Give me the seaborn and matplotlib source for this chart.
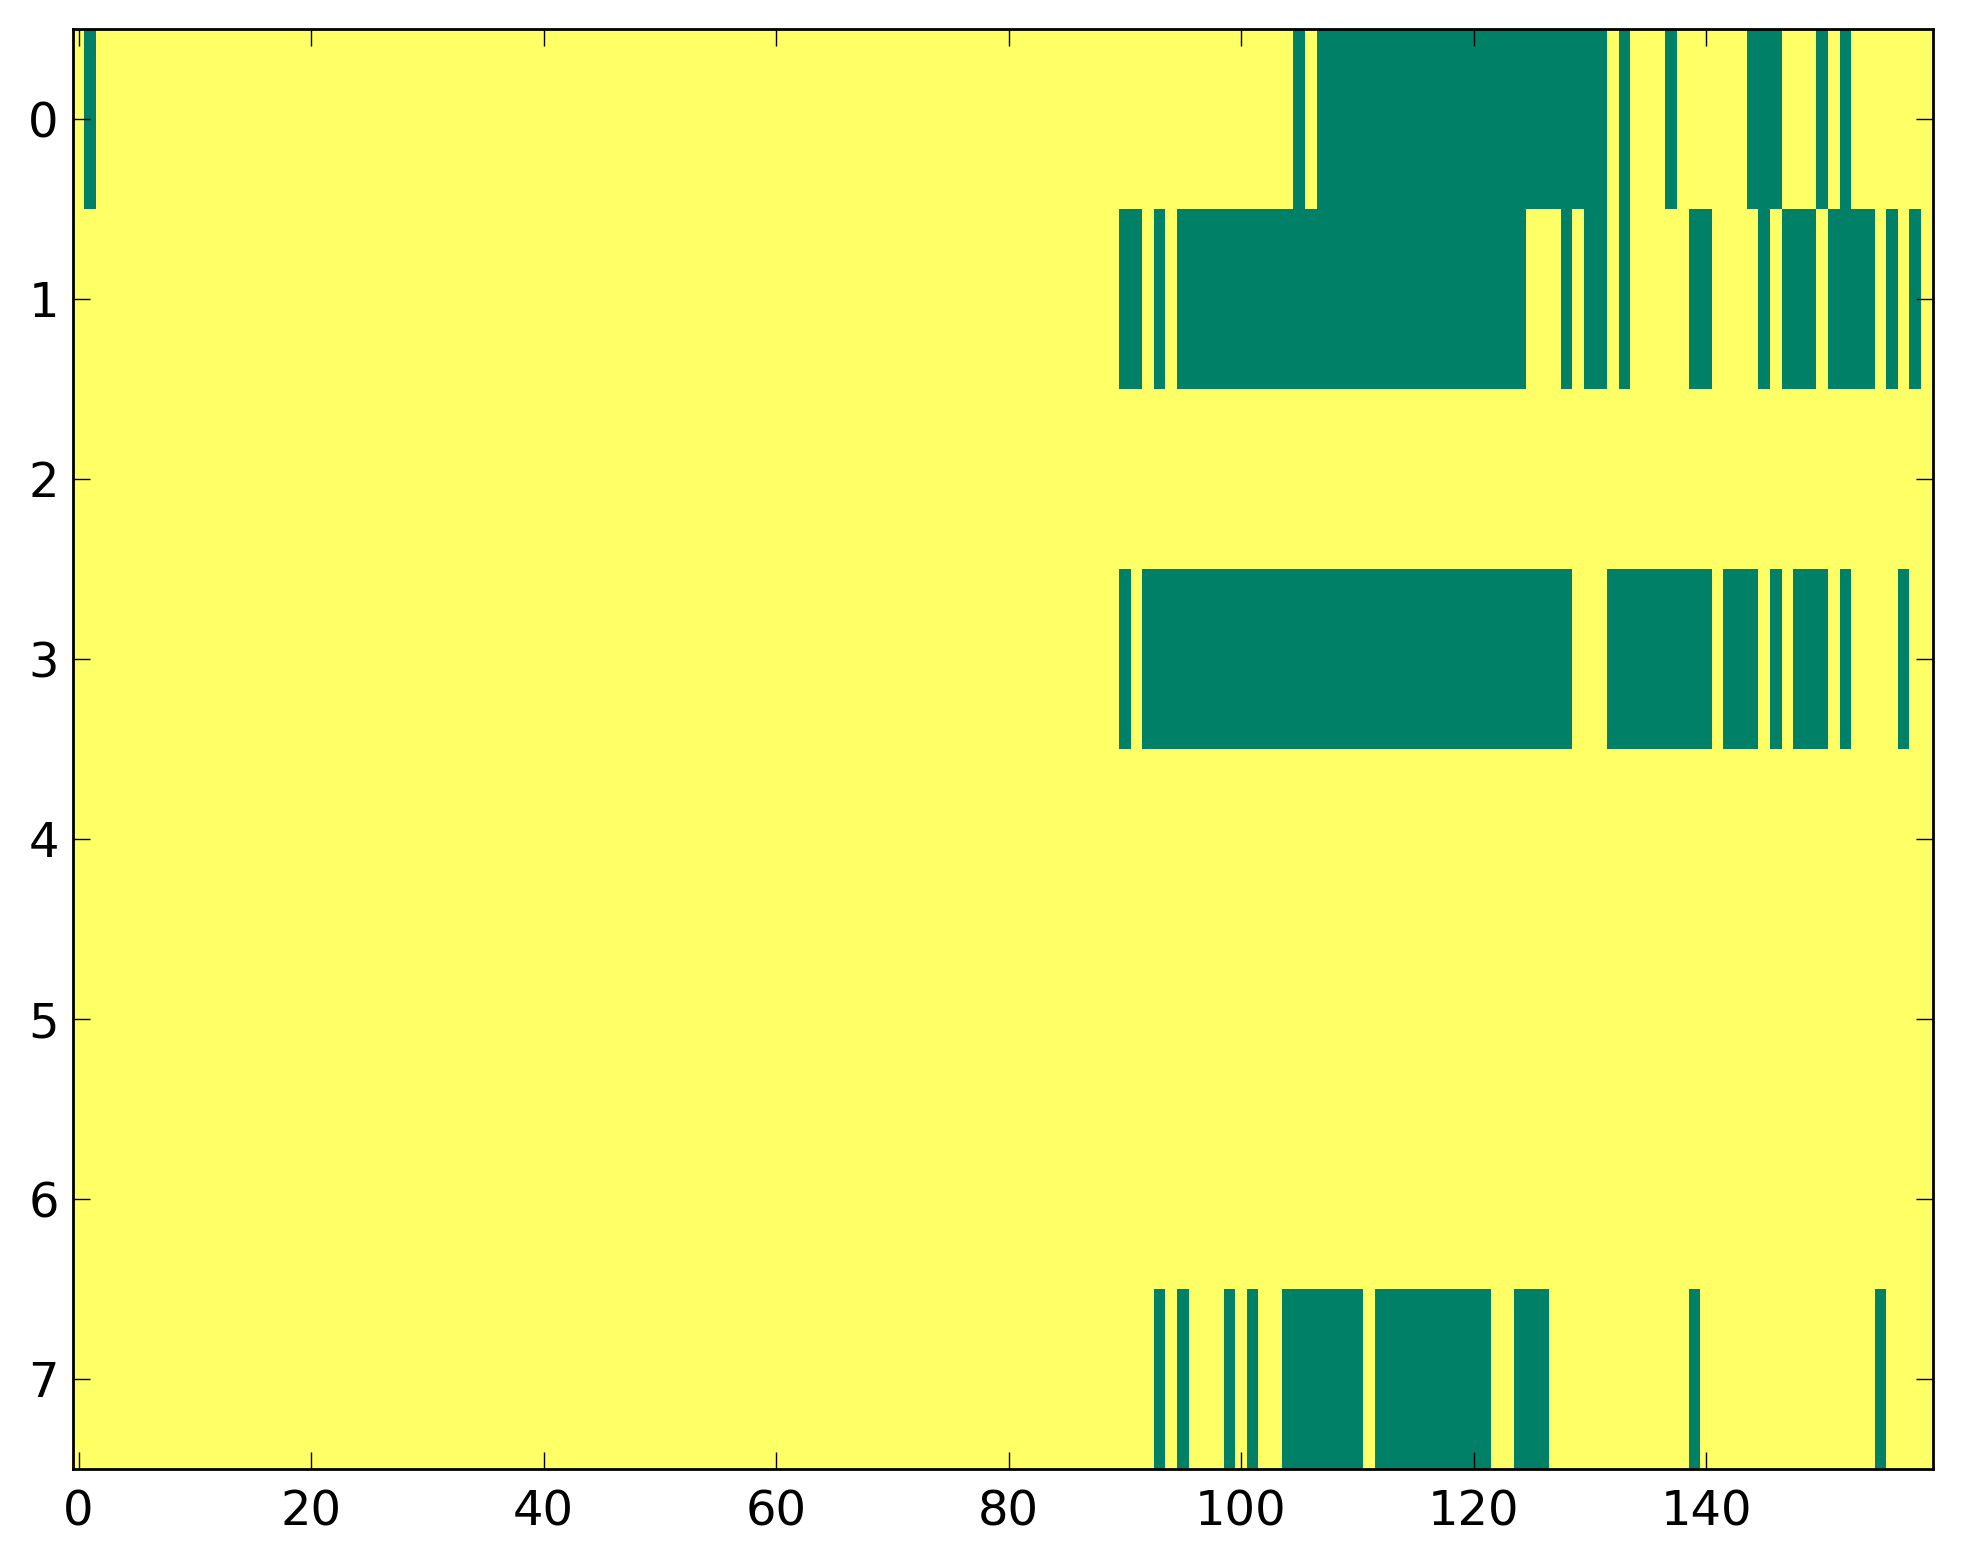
import numpy as np
import pandas as pd
import matplotlib
matplotlib.use("Agg")
import matplotlib.pyplot as plt
import seaborn as sns

# ---- data: runs of zero-valued (green) cells per row ----
n_rows = 8
n_cols = 160
row0_zero_runs = [(1, 1), (105, 105), (107, 131), (133, 133), (137, 137),
                  (144, 146), (150, 150), (152, 152)]
row1_zero_runs = [(90, 91), (93, 93), (95, 124), (128, 128), (130, 131),
                  (133, 133), (139, 140), (145, 145), (147, 149), (151, 154),
                  (156, 156), (158, 158)]
row2_zero_runs = []
row3_zero_runs = [(90, 90), (92, 128), (132, 140), (142, 144), (146, 146),
                  (148, 150), (152, 152), (157, 157)]
row4_zero_runs = []
row5_zero_runs = []
row6_zero_runs = []
row7_zero_runs = [(93, 93), (95, 95), (99, 99), (101, 101), (104, 110),
                  (112, 121), (124, 126), (139, 139), (155, 155)]
x_tick_values = [0, 20, 40, 60, 80, 100, 120, 140]
y_tick_values = [0, 1, 2, 3, 4, 5, 6, 7]

all_runs = [row0_zero_runs, row1_zero_runs, row2_zero_runs, row3_zero_runs,
            row4_zero_runs, row5_zero_runs, row6_zero_runs, row7_zero_runs]
grid = np.ones((n_rows, n_cols))
for r, runs in enumerate(all_runs):
    for a, b in runs:
        grid[r, a:b + 1] = 0
df = pd.DataFrame(grid)

plt.rcParams['font.family'] = ['DejaVu Sans']
fig = plt.figure(figsize=(1963 / 200, 1564 / 200), dpi=200)
ax = fig.add_axes([72.7 / 1963, 1 - 1468.7 / 1564,
                   (1932.7 - 72.7) / 1963, (1468.7 - 29) / 1564])
sns.heatmap(df, ax=ax, cmap="summer", vmin=0, vmax=1, cbar=False,
            linewidths=0, xticklabels=False, yticklabels=False)

ax.set_xticks([v + 0.5 for v in x_tick_values])
ax.set_xticklabels([str(v) for v in x_tick_values])
ax.set_yticks([v + 0.5 for v in y_tick_values])
ax.set_yticklabels([str(v) for v in y_tick_values], rotation=0)
ax.set_xlabel("")
ax.set_ylabel("")

for s in ax.spines.values():
    s.set_visible(True)
    s.set_color("black")
    s.set_linewidth(1.0)

ax.tick_params(axis="both", which="major", direction="in", length=6,
               width=0.5, color="black", labelsize=17.3, labelcolor="black",
               top=True, right=True, bottom=True, left=True)
ax.tick_params(axis="x", pad=7)
ax.tick_params(axis="y", pad=5)

fig.savefig("out.png", dpi=200)
